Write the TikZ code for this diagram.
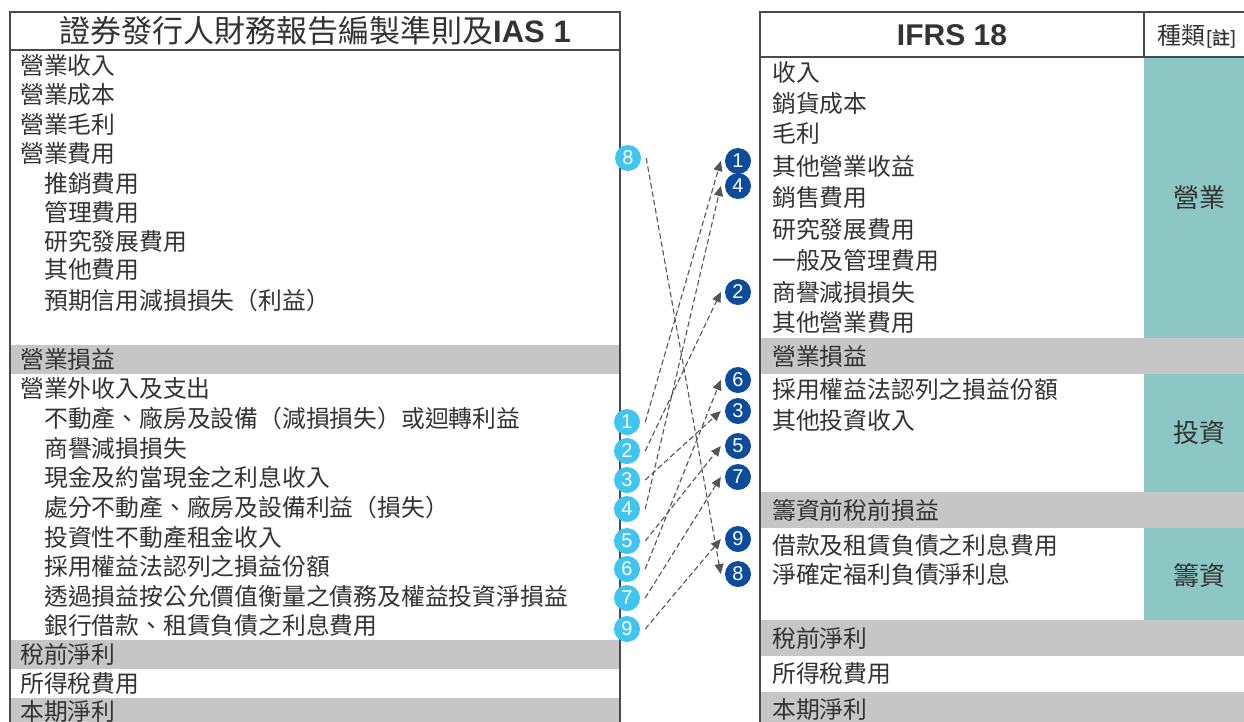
\documentclass[tikz,border=0pt]{standalone}
\usepackage{fontspec}
\setmainfont{Liberation Sans}
\newfontfamily\cjk{Noto Sans CJK TC}
\newfontfamily\cjkb[FakeBold=1.2]{Noto Sans CJK TC}
\usetikzlibrary{arrows.meta}
\definecolor{txt}{HTML}{333333}
\definecolor{bandgray}{HTML}{C6C6C6}
\definecolor{catteal}{HTML}{8CC7C4}
\definecolor{lblue}{HTML}{40C4F0}
\definecolor{dblue}{HTML}{0D4C9B}
\definecolor{edgec}{HTML}{4A4A4A}
\definecolor{arrowc}{HTML}{555555}
\tikzset{
  item/.style={anchor=west, inner sep=0pt, font=\cjk\fontsize{23.8}{25}\selectfont, text=txt},
  cat/.style={inner sep=0pt, font=\cjk\fontsize{26}{28}\selectfont, text=txt},
  lnum/.style={circle, fill=lblue, minimum size=26pt, inner sep=0pt, text=white, font=\fontsize{20}{20}\selectfont},
  rnum/.style={circle, fill=dblue, minimum size=26pt, inner sep=0pt, text=white, font=\fontsize{20}{20}\selectfont},
  conn/.style={draw=arrowc, line width=1.1pt, dash pattern=on 5.5pt off 3pt, -{Triangle[length=10pt,width=9pt]}},
  band/.style={fill=bandgray, draw=none},
  tealbox/.style={fill=catteal, draw=none},
  frame/.style={draw=edgec, line width=1.5pt}
}
\begin{document}
\begin{tikzpicture}[x=1pt,y=-1pt]
\useasboundingbox (0,0) rectangle (1244,721);
\clip (0,0) rectangle (1244,721);
\fill[white] (0,0) rectangle (1244,721);
% ---------- left table ----------
\path[band] (10,345) rectangle (620,374);
\path[band] (10,640) rectangle (620,669);
\path[band] (10,698) rectangle (620,730);
\draw[frame] (10,730) -- (10,12) -- (620,12) -- (620,730);
\draw[frame] (10,50) -- (620,50);
\node[font=\fontsize{31}{31}\selectfont, text=txt, inner sep=0pt] (ltitle) at (315,31) {{\cjk 證券發行人財務報告編製準則及}\textbf{IAS 1}};
\node[item] (a1) at (20,65) {營業收入};
\node[item] (a2) at (20,95) {營業成本};
\node[item] (a3) at (20,124) {營業毛利};
\node[item] (a4) at (20,153) {營業費用};
\node[item] (a5) at (44,183) {推銷費用};
\node[item] (a6) at (44,212) {管理費用};
\node[item] (a7) at (44,241) {研究發展費用};
\node[item] (a8) at (44,270) {其他費用};
\node[item] (a9) at (44,300) {預期信用減損損失（利益）};
\node[item] (a10) at (20,359) {營業損益};
\node[item] (a11) at (20,389) {營業外收入及支出};
\node[item] (a12) at (44,418) {不動產、廠房及設備（減損損失）或迴轉利益};
\node[item] (a13) at (44,448) {商譽減損損失};
\node[item] (a14) at (44,477) {現金及約當現金之利息收入};
\node[item] (a15) at (44,507) {處分不動產、廠房及設備利益（損失）};
\node[item] (a16) at (44,537) {投資性不動產租金收入};
\node[item] (a17) at (44,566) {採用權益法認列之損益份額};
\node[item] (a18) at (44,596) {透過損益按公允價值衡量之債務及權益投資淨損益};
\node[item] (a19) at (44,625) {銀行借款、租賃負債之利息費用};
\node[item] (a20) at (20,654) {稅前淨利};
\node[item] (a21) at (20,684) {所得稅費用};
\node[item] (a22) at (20,712) {本期淨利};
% ---------- right table ----------
\path[band] (760,338) rectangle (1244,374);
\path[band] (760,492) rectangle (1244,528);
\path[band] (760,620) rectangle (1244,656);
\path[band] (760,692) rectangle (1244,730);
\path[tealbox] (1144,57) rectangle (1244,338);
\path[tealbox] (1144,374) rectangle (1244,492);
\path[tealbox] (1144,528) rectangle (1244,620);
\draw[frame] (760,730) -- (760,12) -- (1250,12);
\draw[frame] (760,57) -- (1250,57);
\draw[frame] (1144,12) -- (1144,57);
\node[font=\bfseries\fontsize{30}{30}\selectfont, text=txt, inner sep=0pt] (rtitle) at (952,35) {IFRS 18};
\node[inner sep=0pt, text=txt] (rcat) at (1197,36) {{\cjk\fontsize{24}{26}\selectfont 種類}{\cjkb\fontsize{18}{20}\selectfont [註]}};
\node[item] (b1) at (772,72) {收入};
\node[item] (b2) at (772,103) {銷貨成本};
\node[item] (b3) at (772,134) {毛利};
\node[item] (b4) at (772,166) {其他營業收益};
\node[item] (b5) at (772,197) {銷售費用};
\node[item] (b6) at (772,229) {研究發展費用};
\node[item] (b7) at (772,260) {一般及管理費用};
\node[item] (b8) at (772,292) {商譽減損損失};
\node[item] (b9) at (772,322) {其他營業費用};
\node[item] (b10) at (772,356) {營業損益};
\node[item] (b11) at (772,389) {採用權益法認列之損益份額};
\node[item] (b12) at (772,420) {其他投資收入};
\node[item] (b13) at (772,510) {籌資前稅前損益};
\node[item] (b14) at (772,545) {借款及租賃負債之利息費用};
\node[item] (b15) at (772,574) {淨確定福利負債淨利息};
\node[item] (b16) at (772,638) {稅前淨利};
\node[item] (b17) at (772,674) {所得稅費用};
\node[item] (b18) at (772,710) {本期淨利};
\node[cat] (c1) at (1199,198) {營業};
\node[cat] (c2) at (1199,433) {投資};
\node[cat] (c3) at (1199,575) {籌資};
% ---------- number circles ----------
\node[lnum] (L8) at (628,158) {8};
\node[lnum] (L1) at (627,422) {1};
\node[lnum] (L2) at (627,451) {2};
\node[lnum] (L3) at (627,480) {3};
\node[lnum] (L4) at (627,509) {4};
\node[lnum] (L5) at (627,541) {5};
\node[lnum] (L6) at (627,569) {6};
\node[lnum] (L7) at (627,598) {7};
\node[lnum] (L9) at (627,629) {9};
\node[rnum] (R1) at (738,161) {1};
\node[rnum] (R4) at (738,186) {4};
\node[rnum] (R2) at (738,292) {2};
\node[rnum] (R6) at (738,380) {6};
\node[rnum] (R3) at (738,411) {3};
\node[rnum] (R5) at (738,446) {5};
\node[rnum] (R7) at (738,477) {7};
\node[rnum] (R9) at (738,539) {9};
\node[rnum] (R8) at (738,574) {8};
% ---------- connectors ----------
\foreach \n in {1,...,9}{
  \draw[conn] ([xshift=5pt]L\n.east) -- ([xshift=-4pt]R\n.west);
}
\end{tikzpicture}
\end{document}
